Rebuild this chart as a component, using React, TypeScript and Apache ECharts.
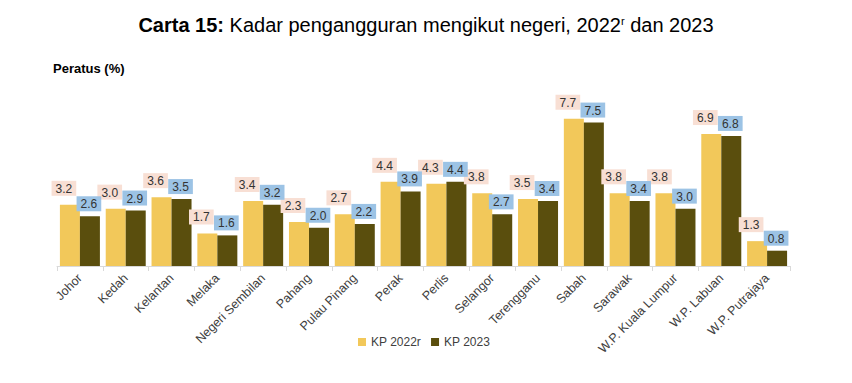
import React, { useEffect, useRef } from "react";
import * as echarts from "echarts";

const categories = [
  "Johor", "Kedah", "Kelantan", "Melaka", "Negeri Sembilan", "Pahang", "Pulau Pinang",
  "Perak", "Perlis", "Selangor", "Terengganu", "Sabah", "Sarawak",
  "W.P. Kuala Lumpur", "W.P. Labuan", "W.P. Putrajaya",
];
const kp2022 = [3.2, 3.0, 3.6, 1.7, 3.4, 2.3, 2.7, 4.4, 4.3, 3.8, 3.5, 7.7, 3.8, 3.8, 6.9, 1.3];
const kp2023 = [2.6, 2.9, 3.5, 1.6, 3.2, 2.0, 2.2, 3.9, 4.4, 2.7, 3.4, 7.5, 3.4, 3.0, 6.8, 0.8];

const FONT = "'Liberation Sans', Arial, sans-serif";

export default function App() {
  const ref = useRef<HTMLDivElement>(null);
  useEffect(() => {
    document.body.style.margin = "0";
    const chart = echarts.init(ref.current!, null, { renderer: "svg" });
    chart.setOption({
      animation: false,
      backgroundColor: "#ffffff",
      textStyle: { fontFamily: FONT },
      title: {
        text: "{b|Carta 15:} Kadar pengangguran mengikut negeri, 2022{sup|r} dan 2023",
        left: "center",
        top: 10,
        textStyle: {
          fontFamily: FONT,
          fontSize: 20,
          fontWeight: "normal",
          color: "#000",
          rich: {
            b: { fontFamily: FONT, fontSize: 20, fontWeight: "bold", color: "#000" },
            sup: { fontFamily: FONT, fontSize: 11, color: "#000", verticalAlign: "top", padding: [0, 0, 8, 0] },
          },
        },
      },
      graphic: [
        {
          type: "text",
          left: 53,
          top: 62,
          style: { text: "Peratus (%)", font: `bold 13px ${FONT}`, fill: "#000" },
        },
      ],
      legend: {
        data: ["KP 2022r", "KP 2023"],
        left: 353,
        top: 331,
        icon: "rect",
        itemWidth: 8,
        itemHeight: 8,
        itemGap: 10,
        textStyle: { fontFamily: FONT, fontSize: 12, color: "#404040" },
      },
      grid: { left: 57, right: 62, top: 113, bottom: 117 },
      xAxis: {
        type: "category",
        data: categories,
        axisLine: { lineStyle: { color: "#d9d9d9" } },
        axisTick: { show: true, lineStyle: { color: "#d9d9d9" } },
        axisLabel: { interval: 0, rotate: 45, fontSize: 12.5, color: "#404040", fontFamily: FONT, margin: 10 },
      },
      yAxis: { type: "value", min: 0, max: 8, show: false, splitLine: { show: false } },
      series: [
        {
          name: "KP 2022r",
          type: "bar",
          data: kp2022,
          barWidth: 20,
          barGap: "0%",
          itemStyle: { color: "#f2c85a" },
          label: {
            show: true,
            position: "top",
            offset: [-6, -4],
            formatter: (p: any) => p.value.toFixed(1),
            backgroundColor: "#f8dfd4",
            padding: [2, 4, 1, 4],
            fontSize: 12,
            color: "#333",
            fontFamily: FONT,
          },
        },
        {
          name: "KP 2023",
          type: "bar",
          data: kp2023,
          barWidth: 20,
          itemStyle: { color: "#5a4e0d" },
          label: {
            show: true,
            position: "top",
            offset: [-1, 0],
            formatter: (p: any) => p.value.toFixed(1),
            backgroundColor: "#9cc3e5",
            padding: [2, 4, 1, 4],
            fontSize: 12,
            color: "#333",
            fontFamily: FONT,
          },
        },
      ],
    });
    return () => chart.dispose();
  }, []);
  return <div ref={ref} style={{ width: 852, height: 383 }} />;
}
